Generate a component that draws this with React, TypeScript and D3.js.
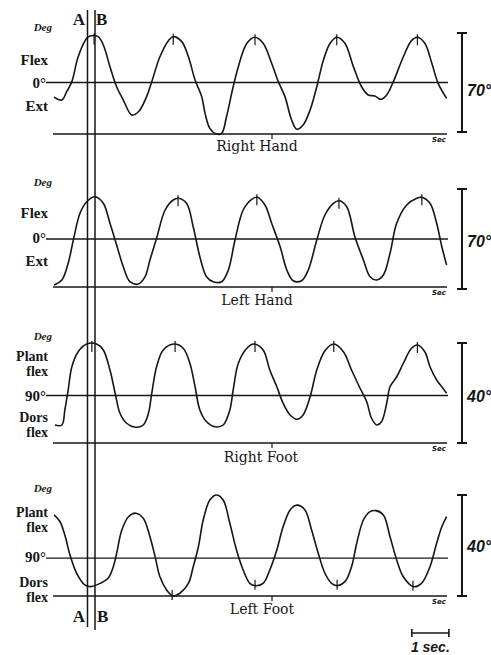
import React from 'react';
import * as d3 from 'd3';

// traces: [time (s), angle (deg)]
const rightHand: [number, number][] = [
  [0.03, -10.3], [0.24, -12.4], [0.37, -6.5], [0.51, 0.6], [0.68, 18.2], [0.91, 31.3], [1.0, 32.9],
  [1.22, 32.4], [1.36, 26.5], [1.54, 11.2], [1.72, -3.0], [1.9, -12.4], [2.13, -23.0], [2.31, -20.7],
  [2.53, -10.0], [2.67, 0.6], [2.89, 18.2], [3.12, 29.6], [3.25, 32.4], [3.48, 28.9], [3.66, 18.2],
  [3.84, 1.8], [4.02, -10.0], [4.11, -21.8], [4.24, -32.4], [4.42, -36.4], [4.56, -35.9], [4.69, -24.2],
  [4.87, -3.0], [5.01, 11.2], [5.24, 27.7], [5.46, 32.0], [5.68, 27.7], [5.91, 13.6], [6.09, 0.6],
  [6.27, -10.0], [6.45, -26.5], [6.59, -33.1], [6.76, -30.1], [6.95, -19.4], [7.13, -3.0], [7.31, 15.9],
  [7.49, 27.7], [7.67, 32.0], [7.89, 27.7], [8.12, 11.2], [8.34, -3.0], [8.52, -8.8], [8.7, -9.5],
  [8.86, -11.9], [9.02, -8.8], [9.2, 0.6], [9.47, 18.2], [9.69, 29.6], [9.85, 32.0], [10.05, 27.7],
  [10.24, 13.6], [10.41, -0.6], [10.64, -11.2],
];
const leftHand: [number, number][] = [
  [0.03, -32.2], [0.24, -28.7], [0.41, -17.0], [0.55, -0.7], [0.73, 18.0], [0.91, 26.1], [1.14, 29.6],
  [1.36, 25.0], [1.54, 11.0], [1.72, -4.2], [1.9, -19.4], [2.08, -29.9], [2.31, -31.5], [2.49, -26.4],
  [2.62, -14.7], [2.8, 0.5], [3.03, 20.3], [3.25, 27.3], [3.39, 28.5], [3.61, 25.0], [3.79, 8.6],
  [3.97, -12.4], [4.15, -26.4], [4.33, -29.9], [4.56, -29.9], [4.74, -21.7], [4.92, -0.7], [5.14, 20.3],
  [5.37, 27.8], [5.52, 29.2], [5.73, 23.8], [5.91, 11.0], [6.14, -5.4], [6.32, -21.7], [6.49, -29.2],
  [6.72, -29.2], [6.9, -21.7], [7.13, -0.7], [7.35, 16.8], [7.58, 25.0], [7.74, 26.8], [7.94, 22.6],
  [8.16, 1.6], [8.39, -14.7], [8.57, -26.4], [8.75, -28.7], [8.93, -25.2], [9.11, -10.0], [9.29, 11.0],
  [9.56, 23.8], [9.83, 28.5], [9.96, 29.2], [10.19, 25.0], [10.37, 11.0], [10.51, -5.4], [10.64, -18.2],
];
const rightFoot: [number, number][] = [
  [0.05, 78.2], [0.24, 78.2], [0.32, 84.2], [0.41, 92.2], [0.51, 101.5], [0.68, 107.5], [0.91, 110.6],
  [1.18, 110.6], [1.36, 108.2], [1.54, 100.2], [1.68, 90.9], [1.81, 82.9], [1.99, 78.9], [2.22, 77.3],
  [2.44, 78.2], [2.58, 82.9], [2.67, 90.9], [2.8, 101.5], [2.98, 108.2], [3.27, 110.6], [3.52, 108.9],
  [3.7, 102.9], [3.84, 93.5], [3.97, 84.2], [4.15, 79.5], [4.38, 77.5], [4.6, 78.2], [4.78, 84.2],
  [4.87, 92.2], [5.01, 102.9], [5.24, 108.9], [5.43, 110.6], [5.68, 108.2], [5.86, 100.2], [6.05, 93.5],
  [6.22, 86.9], [6.41, 82.2], [6.59, 80.5], [6.76, 82.2], [6.95, 89.5], [7.13, 100.2], [7.35, 107.9],
  [7.59, 110.6], [7.85, 107.5], [8.07, 100.2], [8.3, 92.9], [8.48, 87.5], [8.61, 80.9], [8.75, 78.2],
  [8.88, 79.5], [9.02, 86.9], [9.11, 93.5], [9.29, 97.5], [9.47, 102.9], [9.69, 108.9], [9.85, 110.2],
  [10.05, 107.5], [10.19, 101.5], [10.37, 96.2], [10.51, 93.5], [10.64, 90.9],
];
const leftFoot: [number, number][] = [
  [0.03, 107.1], [0.19, 104.4], [0.32, 99.2], [0.46, 91.2], [0.64, 84.0], [0.86, 79.4], [1.0, 78.7],
  [1.27, 80.0], [1.49, 82.0], [1.63, 86.6], [1.72, 91.9], [1.86, 101.1], [2.04, 106.4], [2.24, 107.8],
  [2.44, 105.8], [2.62, 98.5], [2.76, 90.6], [2.89, 82.6], [3.07, 77.4], [3.24, 75.0], [3.43, 76.1],
  [3.66, 80.0], [3.79, 86.6], [3.93, 94.5], [4.06, 105.1], [4.24, 113.0], [4.42, 115.0], [4.6, 113.0],
  [4.78, 103.8], [4.96, 93.2], [5.14, 85.3], [5.32, 80.0], [5.46, 79.1], [5.68, 80.0], [5.86, 85.3],
  [6.05, 93.2], [6.22, 102.4], [6.41, 109.1], [6.59, 111.0], [6.81, 109.1], [6.99, 101.1], [7.17, 91.9],
  [7.35, 84.0], [7.53, 80.0], [7.67, 79.1], [7.89, 80.7], [8.07, 86.6], [8.21, 95.9], [8.39, 105.1],
  [8.57, 108.4], [8.73, 108.8], [8.93, 107.1], [9.11, 98.5], [9.29, 89.3], [9.47, 82.6], [9.74, 78.7],
  [9.96, 80.0], [10.19, 86.6], [10.37, 95.9], [10.51, 102.4], [10.64, 106.4],
];

// little marks on the peaks (troughs on the left foot)
const rightHandMarks: [number, number][] = [[1.11, 32.6], [3.25, 32.4], [5.46, 32.0], [7.67, 32.0], [9.85, 32.0]];
const leftHandMarks: [number, number][] = [[3.38, 28.6], [5.51, 29.2], [7.73, 26.8], [9.97, 29.2]];
const rightFootMarks: [number, number][] = [[1.05, 110.6], [3.3, 110.6], [5.46, 110.6], [7.59, 110.6], [9.85, 110.2]];
const leftFootMarks: [number, number][] = [[3.22, 75.0], [5.46, 79.1], [7.68, 79.1], [9.73, 78.7]];

const panelNames = ['Right Hand', 'Left Hand', 'Right Foot', 'Left Foot'];
const spanLabels = ['70°', '70°', '40°', '40°'];
const refValues = [0, 0, 90, 90];
const refLabels = ['0°', '0°', '90°', '90°'];
const domains: [number, number][] = [[-35, 35], [-35, 35], [71, 111], [75, 115]];

const timeDomain: [number, number] = [0, 10.65];
const secBarStart = 9.7;
const midTick = 5.92;

const panels = [
  { data: rightHand, marks: rightHandMarks, range: [132, 33], base: 134, deg: 31, name: 151, nameX: 257, span: 96,
    up: [['Flex', 65]], ref: 88, down: [['Ext', 111]], markUp: true },
  { data: leftHand, marks: leftHandMarks, range: [289, 189], base: 287, deg: 186, name: 305, nameX: 257, span: 247,
    up: [['Flex', 218]], ref: 243, down: [['Ext', 266]], markUp: true },
  { data: rightFoot, marks: rightFootMarks, range: [443, 343], base: 443, deg: 340, name: 462, nameX: 261, span: 402,
    up: [['Plant', 361], ['flex', 376]], ref: 401, down: [['Dors', 422], ['flex', 437]], markUp: true },
  { data: leftFoot, marks: leftFootMarks, range: [596, 495], base: 596, deg: 492, name: 614, nameX: 262, span: 552,
    up: [['Plant', 517], ['flex', 532]], ref: 562, down: [['Dors', 587], ['flex', 602]], markUp: false },
];

const W = 491;
const H = 655;
const ink = '#161616';
const boldSerif = { fontFamily: 'Liberation Serif', fontWeight: 700 };

export default function App() {
  const x = d3.scaleLinear().domain(timeDomain).range([53, 447]);

  return (
    <svg width={W} height={H} style={{ position: 'absolute', left: 0, top: 0, background: '#fff' }}>
      {panels.map((p, i) => {
        const y = d3.scaleLinear().domain(domains[i]).range(p.range);
        const line = d3.line<[number, number]>()
          .x(d => x(d[0]))
          .y(d => y(d[1]))
          .curve(d3.curveCatmullRom.alpha(0.5));
        const refY = y(refValues[i]);
        const [lo, hi] = domains[i];
        const stacked = p.up.length > 1;
        const fs = stacked ? 14 : 15;
        return (
          <g key={i}>
            {/* reference line and baseline */}
            <line x1={46} x2={448} y1={refY} y2={refY} stroke={ink} strokeWidth={1.3} />
            <line x1={53} x2={447} y1={p.base} y2={p.base} stroke={ink} strokeWidth={1.3} />
            <line x1={x(midTick)} x2={x(midTick)} y1={p.base} y2={p.base + 5} stroke={ink} strokeWidth={1.2} />

            <path d={line(p.data) || ''} fill="none" stroke={ink} strokeWidth={1.6} strokeLinejoin="round" />
            {p.marks.map((m, j) => (
              <line key={j} x1={x(m[0])} x2={x(m[0])}
                y1={p.markUp ? y(m[1]) - 3 : y(m[1]) - 6}
                y2={p.markUp ? y(m[1]) + 8 : y(m[1]) + 4}
                stroke={ink} strokeWidth={1.2} />
            ))}

            {/* left labels */}
            <text x={52} y={p.deg} textAnchor="end" fontFamily="Liberation Serif" fontStyle="italic" fontWeight={700}
              fontSize={11} fill={ink}>Deg</text>
            {p.up.map(([t, ty]) => (
              <text key={t + ty} x={48} y={ty as number} textAnchor="end" {...boldSerif} fontSize={fs} fill={ink}>{t}</text>
            ))}
            <text x={46} y={p.ref} textAnchor="end" {...boldSerif} fontSize={15} fill={ink}>{refLabels[i]}</text>
            {p.down.map(([t, ty]) => (
              <text key={t + ty} x={48} y={ty as number} textAnchor="end" {...boldSerif} fontSize={fs} fill={ink}>{t}</text>
            ))}

            <text x={p.nameX} y={p.name} textAnchor="middle" fontFamily="DejaVu Serif" fontSize={14} fill={ink}>
              {panelNames[i]}
            </text>
            <text x={446} y={p.base + 8} textAnchor="end" fontFamily="DejaVu Sans" fontStyle="italic" fontWeight={700}
              fontSize={7} fill={ink}>Sec</text>

            {/* amplitude scale bar */}
            <line x1={462} x2={462} y1={y(lo)} y2={y(hi)} stroke={ink} strokeWidth={2} />
            <line x1={457} x2={467} y1={y(lo)} y2={y(lo)} stroke={ink} strokeWidth={2} />
            <line x1={457} x2={467} y1={y(hi)} y2={y(hi)} stroke={ink} strokeWidth={2} />
            <text x={467} y={p.span} fontFamily="Liberation Sans" fontStyle="italic" fontWeight={700} fontSize={16}
              fill={ink}>{spanLabels[i]}</text>
          </g>
        );
      })}

      {/* A / B markers */}
      <line x1={87.5} x2={87.5} y1={10} y2={627} stroke={ink} strokeWidth={1.5} />
      <line x1={95} x2={95} y1={10} y2={630} stroke={ink} strokeWidth={1.5} />
      <text x={85} y={25} textAnchor="end" fontFamily="Liberation Serif" fontWeight={700} fontSize={17} fill={ink}>A</text>
      <text x={96} y={25} fontFamily="Liberation Serif" fontWeight={700} fontSize={17} fill={ink}>B</text>
      <text x={85} y={622} textAnchor="end" fontFamily="Liberation Serif" fontWeight={700} fontSize={17} fill={ink}>A</text>
      <text x={97} y={622} fontFamily="Liberation Serif" fontWeight={700} fontSize={17} fill={ink}>B</text>

      {/* 1 second bar */}
      <line x1={x(secBarStart)} x2={x(secBarStart + 1)} y1={633} y2={633} stroke={ink} strokeWidth={1.6} />
      <line x1={x(secBarStart)} x2={x(secBarStart)} y1={629} y2={637} stroke={ink} strokeWidth={1.6} />
      <line x1={x(secBarStart + 1)} x2={x(secBarStart + 1)} y1={629} y2={637} stroke={ink} strokeWidth={1.6} />
      <text x={x(secBarStart + 0.5)} y={652} textAnchor="middle" fontFamily="Liberation Sans" fontStyle="italic"
        fontWeight={700} fontSize={14} fill={ink}>1 sec.</text>
    </svg>
  );
}
